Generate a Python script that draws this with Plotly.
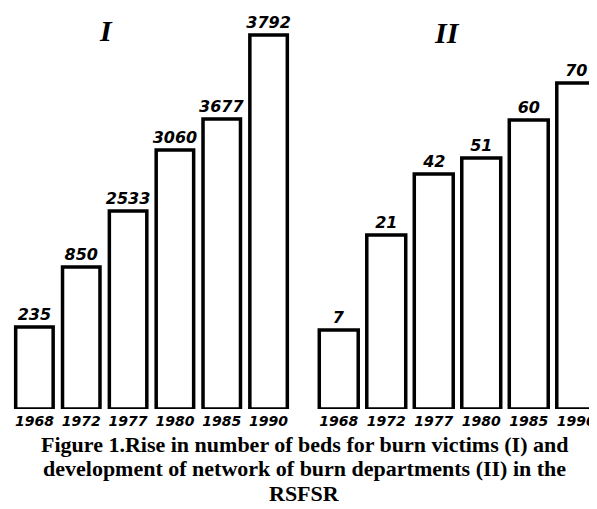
import plotly.graph_objects as go

# Categories (years) shared by both panels
years = ["1968", "1972", "1977", "1980", "1985", "1990"]

# Panel I: number of beds for burn victims (printed values)
beds = [235, 850, 2533, 3060, 3677, 3792]
# Panel II: number of burn departments (printed values)
departments = [7, 21, 42, 51, 60, 70]

# The original bars are schematic (not to scale); their drawn lengths
bar_len_I = [82, 142, 198, 259, 290, 374]
bar_len_II = [79, 174, 235, 251, 289, 326]

panel_titles = ["I", "II"]
caption = [
    "Figure 1.Rise in number of beds for burn victims (I) and",
    "development of network of burn departments (II) in the",
    "RSFSR",
]

OFF = 8  # the page body puts the figure 8px in from the window corner
W, H = 597 - OFF, 509 - OFF
PH = 401
B = H - PH

label_font = dict(family="DejaVu Sans, sans-serif", size=16, color="black",
                  weight="bold", style="italic")
tick_font = dict(family="DejaVu Sans, sans-serif", size=14,
                 color="black", weight="bold", style="italic")

bar_style = dict(color="white", line=dict(color="black", width=3.5))

fig = go.Figure()
fig.add_trace(go.Bar(
    x=years, y=bar_len_I, xaxis="x", yaxis="y",
    text=[str(v) for v in beds], textposition="outside", textfont=label_font,
    constraintext="none", marker=bar_style,
    width=0.8, cliponaxis=False, hoverinfo="skip", showlegend=False,
))
fig.add_trace(go.Bar(
    x=years, y=bar_len_II, xaxis="x2", yaxis="y2",
    text=[str(v) for v in departments], textposition="outside", textfont=label_font,
    constraintext="none", marker=bar_style,
    width=0.82, cliponaxis=False, hoverinfo="skip", showlegend=False,
))

def sx(px):  # screen x -> paper fraction
    return (px - OFF) / W

def sy(px):  # screen y -> paper fraction (relative to plot area)
    return (PH - (px - OFF)) / PH

axis_common = dict(showgrid=False, zeroline=False, showline=False, ticks="",
                   tickfont=tick_font, type="category", ticklabelstandoff=2)
fig.update_layout(
    width=W, height=H,
    margin=dict(l=0, r=0, t=0, b=B),
    paper_bgcolor="white", plot_bgcolor="white",
    xaxis=dict(domain=[sx(11), sx(292)], range=[-0.5, 5.5], anchor="y", **axis_common),
    xaxis2=dict(domain=[sx(315), 1.0], range=[-0.5, -0.5 + (597 - 315) / 47.5],
                anchor="y2", **axis_common),
    yaxis=dict(range=[0, PH], visible=False, domain=[0, 1], anchor="x"),
    yaxis2=dict(range=[0, PH], visible=False, domain=[0, 1], anchor="x2"),
)

title_font = dict(family="Liberation Serif, serif", size=30, color="black",
                  weight="bold", style="italic")
fig.add_annotation(text=panel_titles[0], x=sx(106), y=sy(31), xref="paper", yref="paper",
                   showarrow=False, font=title_font, xanchor="center", yanchor="middle")
fig.add_annotation(text=panel_titles[1], x=sx(447), y=sy(32), xref="paper", yref="paper",
                   showarrow=False, font=title_font, xanchor="center", yanchor="middle")

cap_font = dict(family="Liberation Serif, serif", size=22, color="black", weight="bold")
for line, ypx in zip(caption, [444, 468.5, 493]):
    fig.add_annotation(text=line, x=sx(304), y=sy(ypx),
                       xref="paper", yref="paper", showarrow=False, font=cap_font,
                       xanchor="center", yanchor="middle")

fig.write_html("out.html")
